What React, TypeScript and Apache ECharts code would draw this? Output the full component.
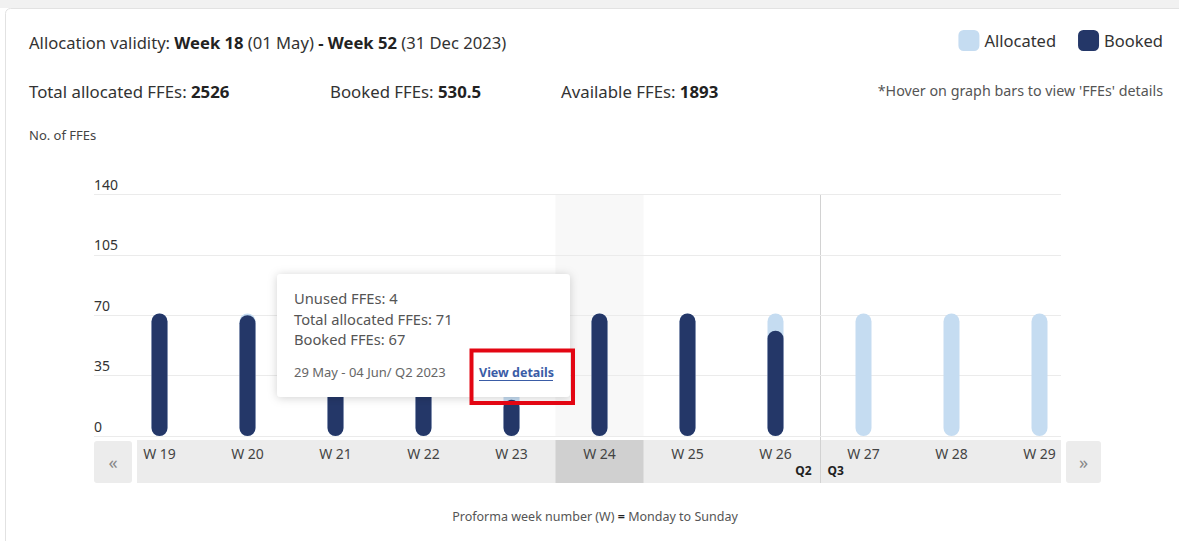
import React, { useEffect, useRef } from "react";
import * as echarts from "echarts";

const weeks = ["W 19", "W 20", "W 21", "W 22", "W 23", "W 24", "W 25", "W 26", "W 27", "W 28", "W 29"];
const allocatedFFEs = [71, 71, 71, 71, 71, 71, 71, 71, 71, 71, 71];
const bookedFFEs = [71, 70, 71, 67, 21, 71, 71, 61, null, null, null];
const yMin = 0;
const yMax = 140;
const yStep = 35;
const legendNames = ["Allocated", "Booked"];
const summaryLabels = ["Total allocated FFEs: ", "Booked FFEs: ", "Available FFEs: "];
const summaryValues = ["2526", "530.5", "1893"];
const highlightedWeek = "W 24";
const quarterBoundary = ["W 26", "W 27"];
const quarterNames = ["Q2", "Q3"];
const tooltipRows = ["Unused FFEs: 4", "Total allocated FFEs: 71", "Booked FFEs: 67"];
const tooltipPeriod = "29 May - 04 Jun/ Q2 2023";

const FONT = "'Noto Sans', sans-serif";
const PLOT_TOP = 194.5;
const PLOT_H = 241.5;
const AXIS_BAND_TOP = 440;
const AXIS_BAND_H = 43;

export default function App() {
  const ref = useRef<HTMLDivElement>(null);
  useEffect(() => {
    document.body.style.margin = "0";
    const chart = echarts.init(ref.current!, null, { renderer: "svg" });
    const option: any = {
      animation: false,
      backgroundColor: "#ffffff",
      textStyle: { fontFamily: FONT },
      legend: {
        data: legendNames,
        right: 11,
        top: 25,
        itemWidth: 21,
        itemHeight: 21,
        itemGap: 22,
        icon: "roundRect",
        selectedMode: false,
        textStyle: { fontSize: 16.5, color: "#333", fontFamily: FONT },
      },
      grid: [
        { left: 94, top: PLOT_TOP, width: 967, height: PLOT_H },
        { left: 115.5, top: PLOT_TOP, width: 968, height: PLOT_H },
      ],
      xAxis: [
        { gridIndex: 0, type: "value", show: false, min: 0, max: 1 },
        {
          gridIndex: 1,
          type: "category",
          data: weeks,
          axisLine: { show: false },
          axisTick: { show: false },
          axisLabel: { color: "#444", fontSize: 14, margin: 10, fontFamily: FONT },
        },
      ],
      yAxis: [
        {
          gridIndex: 0,
          type: "value",
          min: yMin,
          max: yMax,
          interval: yStep,
          axisLine: { show: false },
          axisTick: { show: false },
          splitLine: { lineStyle: { color: "#ebebeb", width: 1 } },
          axisLabel: {
            inside: true,
            margin: 0,
            verticalAlign: "bottom",
            color: "#333",
            fontSize: 14,
            fontFamily: FONT,
            padding: [0, 0, 3, 0],
          },
        },
        { gridIndex: 1, type: "value", min: yMin, max: yMax, show: false },
      ],
      series: [
        {
          name: legendNames[0],
          type: "bar",
          xAxisIndex: 1,
          yAxisIndex: 1,
          data: allocatedFFEs,
          barWidth: 16,
          barGap: "-100%",
          itemStyle: { color: "#c5dcf1", borderRadius: 8 },
        },
        {
          name: legendNames[1],
          type: "bar",
          xAxisIndex: 1,
          yAxisIndex: 1,
          data: bookedFFEs,
          barWidth: 16,
          barGap: "-100%",
          itemStyle: { color: "#243768", borderRadius: 8 },
        },
      ],
    };
    chart.setOption(option);

    const cx = (w: string) => chart.convertToPixel({ xAxisIndex: 1 } as any, w) as unknown as number;
    const band = cx(weeks[1]) - cx(weeks[0]);
    const hx = cx(highlightedWeek);
    const qx = Math.round((cx(quarterBoundary[0]) + cx(quarterBoundary[1])) / 2) + 0.5;

    const rich = (size: number, color: string) => ({
      n: { fontSize: size, fontFamily: FONT, fill: color, color },
      b: { fontSize: size, fontFamily: FONT, fontWeight: "bold", fill: "#222", color: "#222" },
    });

    const graphic: any[] = [
      { type: "rect", z: -20, shape: { x: 0, y: 0, width: 1179, height: 8 }, style: { fill: "#f1f1f1" } },
      {
        type: "rect",
        z: -19,
        shape: { x: 5.5, y: 8.5, width: 1300, height: 700, r: 5 },
        style: { fill: "#ffffff", stroke: "#e2e2e2", lineWidth: 1 },
      },
      // plot highlight column
      {
        type: "rect",
        z: -5,
        shape: { x: hx - band / 2, y: PLOT_TOP, width: band, height: PLOT_H },
        style: { fill: "#f8f8f8" },
      },
      // axis band
      {
        type: "rect",
        z: -4,
        shape: { x: 137, y: AXIS_BAND_TOP, width: 924, height: AXIS_BAND_H },
        style: { fill: "#ececec" },
      },
      {
        type: "rect",
        z: -3,
        shape: { x: hx - band / 2, y: AXIS_BAND_TOP, width: band, height: AXIS_BAND_H },
        style: { fill: "#d0d0d0" },
      },
      // nav buttons
      {
        type: "rect",
        z: -4,
        shape: { x: 94, y: 441, width: 38, height: 42, r: 3 },
        style: { fill: "#ececec" },
      },
      {
        type: "text",
        z: 5,
        style: { text: "«", x: 113, y: 462, align: "center", verticalAlign: "middle", fontSize: 18, fontFamily: FONT, fill: "#888" },
      },
      {
        type: "rect",
        z: -4,
        shape: { x: 1066, y: 441, width: 35, height: 42, r: 3 },
        style: { fill: "#ececec" },
      },
      {
        type: "text",
        z: 5,
        style: { text: "»", x: 1083.5, y: 462, align: "center", verticalAlign: "middle", fontSize: 18, fontFamily: FONT, fill: "#888" },
      },
      // quarter divider
      {
        type: "line",
        z: -2,
        shape: { x1: qx, y1: PLOT_TOP, x2: qx, y2: AXIS_BAND_TOP + AXIS_BAND_H },
        style: { stroke: "#d2d2d2", lineWidth: 1 },
      },
      {
        type: "text",
        z: 5,
        style: { text: quarterNames[0], x: qx - 9, y: 470, align: "right", verticalAlign: "middle", fontSize: 12, fontWeight: "bold", fontFamily: FONT, fill: "#222" },
      },
      {
        type: "text",
        z: 5,
        style: { text: quarterNames[1], x: qx + 7, y: 470, align: "left", verticalAlign: "middle", fontSize: 12, fontWeight: "bold", fontFamily: FONT, fill: "#222" },
      },
      // header
      {
        type: "text",
        z: 5,
        style: {
          text: "{n|Allocation validity: }{b|Week 18}{n| (01 May) }{b|-}{n| }{b|Week 52}{n| (31 Dec 2023)}",
          x: 29,
          y: 42,
          verticalAlign: "middle",
          rich: rich(16.6, "#333"),
        },
      },
      ...summaryLabels.map((lab, i) => ({
        type: "text",
        z: 5,
        style: {
          text: `{n|${lab}}{b|${summaryValues[i]}}`,
          x: [29, 330, 561][i],
          y: 91,
          verticalAlign: "middle",
          rich: rich(16.8, "#333"),
        },
      })),
      {
        type: "text",
        z: 5,
        style: {
          text: "*Hover on graph bars to view 'FFEs' details",
          x: 1163,
          y: 90,
          align: "right",
          verticalAlign: "middle",
          fontSize: 14.3,
          fontFamily: FONT,
          fill: "#555",
        },
      },
      {
        type: "text",
        z: 5,
        style: { text: "No. of FFEs", x: 29, y: 135, verticalAlign: "middle", fontSize: 13, fontFamily: FONT, fill: "#444" },
      },
      {
        type: "text",
        z: 5,
        style: {
          text: "{n|Proforma week number (W) }{b|=}{n| Monday to Sunday}",
          x: 595,
          y: 516,
          align: "center",
          verticalAlign: "middle",
          rich: rich(12.5, "#555"),
        },
      },
      // tooltip
      {
        type: "group",
        z: 50,
        children: [
          {
            type: "rect",
            z: 50,
            shape: { x: 277, y: 274, width: 293, height: 123, r: 4 },
            style: { fill: "#ffffff", shadowBlur: 10, shadowColor: "rgba(0,0,0,0.18)", shadowOffsetY: 1 },
          },
          ...tooltipRows.map((t, i) => ({
            type: "text",
            z: 51,
            style: { text: t, x: 294, y: [298, 319, 339][i], verticalAlign: "middle", fontSize: 14.7, fontFamily: FONT, fill: "#555" },
          })),
          {
            type: "text",
            z: 51,
            style: { text: tooltipPeriod, x: 294, y: 372, verticalAlign: "middle", fontSize: 13, fontFamily: FONT, fill: "#666" },
          },
          {
            type: "text",
            z: 51,
            style: { text: "View details", x: 479, y: 372, verticalAlign: "middle", fontSize: 12.5, fontWeight: "bold", fontFamily: FONT, fill: "#3a5ca6" },
          },
          {
            type: "line",
            z: 51,
            shape: { x1: 479, y1: 380.5, x2: 553, y2: 380.5 },
            style: { stroke: "#3a5ca6", lineWidth: 1 },
          },
          {
            type: "rect",
            z: 52,
            shape: { x: 471.5, y: 350.5, width: 101.5, height: 52.5 },
            style: { fill: "none", stroke: "#e30613", lineWidth: 4 },
          },
        ],
      },
    ];
    chart.setOption({ graphic });
    return () => chart.dispose();
  }, []);
  return <div ref={ref} style={{ width: 1179, height: 541 }} />;
}
